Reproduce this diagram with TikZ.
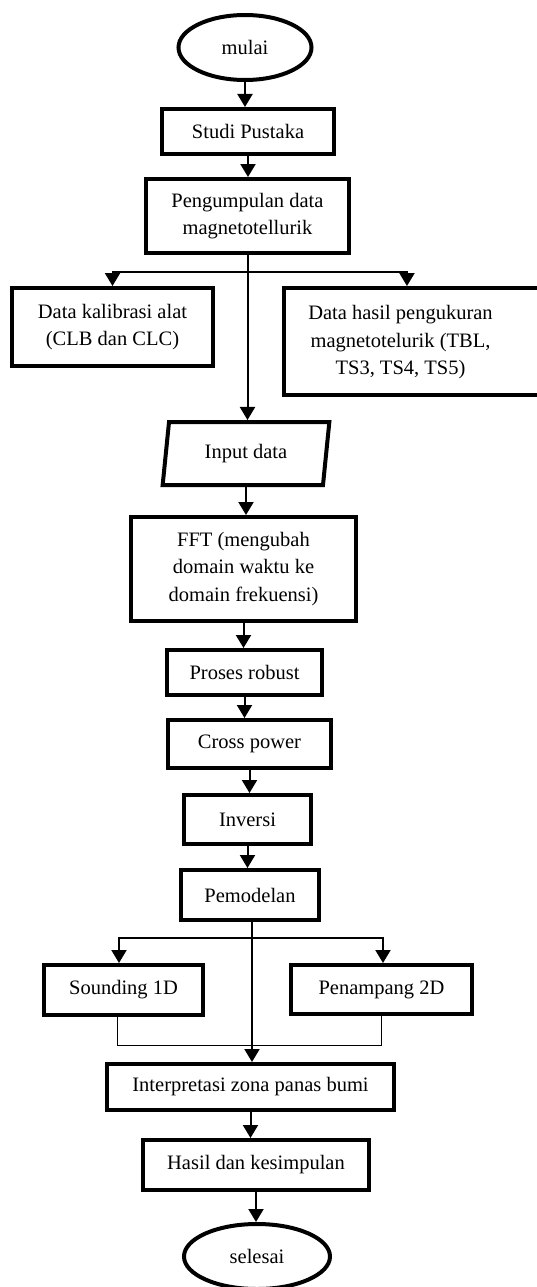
\documentclass[tikz,border=0pt]{standalone}
\usepackage{fontspec}
\setmainfont{Liberation Serif}
\usepackage{tikz}
\usetikzlibrary{positioning,arrows.meta,shapes.geometric}
\newcommand{\flowsize}{\fontsize{20.5}{27.5}\selectfont}

\begin{document}
\begin{tikzpicture}[x=1pt,y=-1pt,font=\flowsize,
  box/.style={draw,line width=4pt,rectangle,align=center,inner sep=2pt},
  term/.style={draw,line width=4pt,ellipse,inner sep=0pt},
  io/.style={draw,line width=4pt,trapezium,trapezium left angle=81,
    trapezium right angle=99,trapezium stretches=true,inner sep=2pt},
  flow/.style={line width=2pt,-{Triangle[width=15pt,length=13pt]}},
  branch/.style={line width=2pt},
  tie/.style={line width=1pt}]
\useasboundingbox (0,0) rectangle (537,1287);
% ---- start, literature, data collection ----
\node[term,minimum width=133,minimum height=65] (mulai) at (245,47.5) {mulai};
\node[box,minimum width=172,minimum height=45] (studi) at (248,131.5) {Studi Pustaka};
\node[box,minimum width=203,minimum height=74] (kumpul) at (247.5,216) {Pengumpulan data\\magnetotellurik};
\node[box,minimum width=201,minimum height=78] (kalib) at (112.5,327) {Data kalibrasi alat\\(CLB dan CLC)};
\node[box,minimum width=255,minimum height=107] (ukur) at (411.5,341.5)
  {\begin{tabular}{@{}c@{}}Data hasil pengukuran\\magnetotelurik (TBL,\\TS3, TS4, TS5)\end{tabular}\hspace*{22pt}};
% ---- processing chain ----
\node[io,minimum width=168,minimum height=63] (input) at (246,453.5) {Input data};
\node[box,minimum width=225,minimum height=104] (fft) at (243.5,569) {FFT (mengubah\\domain waktu ke\\domain frekuensi)};
\node[box,minimum width=155,minimum height=45] (robust) at (244.5,672.5) {Proses robust};
\node[box,minimum width=163,minimum height=48] (cross) at (249.5,744) {Cross power};
\node[box,minimum width=127,minimum height=49] (inversi) at (247.5,819.5) {Inversi};
\node[box,minimum width=138,minimum height=50] (model) at (250,895) {Pemodelan};
% ---- models, interpretation, end ----
\node[box,minimum width=159,minimum height=50] (sounding) at (123.5,990) {Sounding 1D};
\node[box,minimum width=181,minimum height=49] (penampang) at (381.5,989.5) {Penampang 2D};
\node[box,minimum width=287,minimum height=46] (interp) at (250.5,1087) {Interpretasi zona panas bumi};
\node[box,minimum width=226,minimum height=50] (hasil) at (256,1165) {Hasil dan kesimpulan};
\node[term,minimum width=146,minimum height=65] (selesai) at (257,1256.5) {selesai};
% ---- connectors ----
\draw[flow] (mulai.south) -- (mulai.south |- studi.north);
\draw[flow] (studi.south) -- (studi.south |- kumpul.north);
\coordinate (cabang1) at (247.5,272);
\draw[flow] (kumpul.south) -- (kumpul.south |- input.north);
\draw[flow] (cabang1) -| (kalib.north);
\draw[flow] (cabang1) -| ([xshift=-4.5pt]ukur.north);
\draw[flow] (input.south) -- (input.south |- fft.north);
\draw[flow] (fft.south) -- (fft.south |- robust.north);
\draw[flow] (robust.south) -- (robust.south |- cross.north);
\draw[flow] (cross.south) -- (cross.south |- inversi.north);
\draw[flow] (inversi.south) -- (inversi.south |- model.north);
\coordinate (cabang2) at (252,938);
\draw[flow] ([xshift=2pt]model.south) -- ([xshift=2pt]model.south |- interp.north);
\draw[flow] (cabang2) -| ([xshift=-4.5pt]sounding.north);
\draw[flow] (cabang2) -| ([xshift=1.5pt]penampang.north);
\draw[tie] ([xshift=-6pt]sounding.south) -- ++(0,28) -| (penampang.south);
\draw[flow] (interp.south) -- (interp.south |- hasil.north);
\draw[flow] (hasil.south) -- (hasil.south |- selesai.north);
\end{tikzpicture}
\end{document}
